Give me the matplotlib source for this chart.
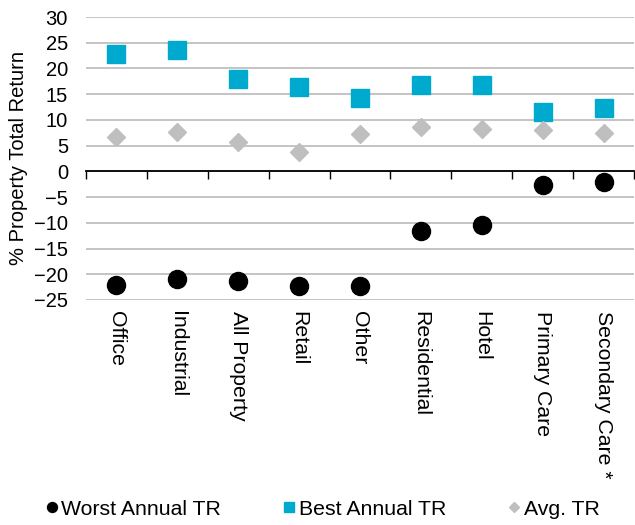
import matplotlib
matplotlib.use("Agg")
import matplotlib.pyplot as plt
from matplotlib.ticker import MultipleLocator

plt.rcParams['font.family'] = ['Liberation Sans', 'DejaVu Sans']

categories = ["Office", "Industrial", "All Property", "Retail", "Other",
              "Residential", "Hotel", "Primary Care", "Secondary Care *"]
worst = [-22.1, -20.9, -21.4, -22.3, -22.3, -11.5, -10.4, -2.6, -2.1]
best = [22.8, 23.5, 17.9, 16.4, 14.3, 16.8, 16.8, 11.5, 12.3]
avg = [6.7, 7.6, 5.7, 3.7, 7.2, 8.6, 8.3, 8.1, 7.4]

FS = 14.5
FS2 = 15.3
fig = plt.figure(figsize=(6.35, 5.25), dpi=100)
ax = fig.add_axes([0.1354, 0.4286, 0.8630, 0.5390])

x = [i + 0.5 for i in range(len(categories))]
ax.plot(x, worst, linestyle='none', marker='o', ms=13, color='black',
        label='Worst Annual TR', zorder=4)
ax.plot(x, best, linestyle='none', marker='s', ms=13.5, color='#00AACE',
        label='Best Annual TR', zorder=4)
ax.plot(x, avg, linestyle='none', marker='D', ms=9, color='#BFBFBF',
        label='Avg. TR', zorder=4)

ax.set_xlim(0, len(categories))
ax.set_ylim(-25, 30)
ax.yaxis.set_major_locator(MultipleLocator(5))
ax.grid(axis='y', color='#BFBFBF', lw=1.3, zorder=0)
ax.set_axisbelow(True)
for s in ['left', 'right', 'top']:
    ax.spines[s].set_visible(False)
ax.spines['bottom'].set_position(('data', 0))
ax.spines['bottom'].set_color('#000000')
ax.spines['bottom'].set_linewidth(1.3)
ax.spines['bottom'].set_zorder(3)
ax.set_xticks(range(len(categories) + 1))
ax.tick_params(axis='x', direction='out', length=6, width=1.0, labelbottom=False,
               color='#000000')
ax.tick_params(axis='y', length=0, pad=13, labelsize=FS)
ax.set_ylabel('% Property Total Return', fontsize=FS, labelpad=4)

sec = ax.secondary_xaxis('bottom')
sec.set_xticks(x)
sec.set_xticklabels(categories, rotation=-90, fontsize=FS2, va='top', ha='center')
sec.tick_params(length=0, pad=8)
sec.spines['bottom'].set_visible(False)

ax.legend(loc='center', bbox_to_anchor=(0.508, 0.03), bbox_transform=fig.transFigure,
          ncol=3, frameon=False, fontsize=FS2, markerscale=0.55,
          handlelength=0.6, handletextpad=0.15, columnspacing=2.9)

fig.savefig('out.png', dpi=100)
